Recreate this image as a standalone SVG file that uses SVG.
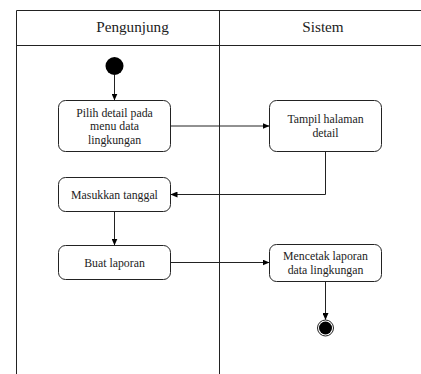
<svg xmlns="http://www.w3.org/2000/svg" width="421" height="374" viewBox="0 0 421 374">
<style>
.lane{fill:none;stroke:#222;stroke-width:1}
.box{fill:#fff;stroke:#222;stroke-width:1}
.t{font-family:"Liberation Serif","Times New Roman","DejaVu Serif",serif;font-size:11.8px;fill:#222;text-anchor:middle}
.h{font-family:"Liberation Serif","Times New Roman","DejaVu Serif",serif;font-size:15.2px;fill:#222;text-anchor:middle}
.c{fill:none;stroke:#222;stroke-width:1}
</style>
<defs>
<marker id="a" markerWidth="7" markerHeight="6" refX="6.5" refY="3" orient="auto" markerUnits="userSpaceOnUse">
<path d="M0,0 L7,3 L0,6 Z" fill="#000"/>
</marker>
</defs>
<rect width="421" height="374" fill="#fff"/>
<g id="swimlanes">
<path class="lane" d="M16.5,374 V10.5 H430 M16.5,45.5 H430 M219.5,10.5 V374"/>
<text class="h" x="132.5" y="32">Pengunjung</text>
<text class="h" x="323" y="32">Sistem</text>
</g>
<g id="start"><circle cx="114.5" cy="66" r="9" fill="#000"/></g>
<g id="n1"><rect class="box" x="58.5" y="100.5" width="112" height="51" rx="7"/>
<text class="t" x="114.5" y="116.5">Pilih detail pada</text>
<text class="t" x="114.5" y="130">menu data</text>
<text class="t" x="114.5" y="143.5">lingkungan</text></g>
<g id="n2"><rect class="box" x="269.5" y="100.5" width="112" height="51" rx="7"/>
<text class="t" x="325.5" y="123">Tampil halaman</text>
<text class="t" x="325.5" y="137">detail</text></g>
<g id="n3"><rect class="box" x="58.5" y="177.5" width="112" height="34" rx="7"/>
<text class="t" x="114.5" y="198.5">Masukkan tanggal</text></g>
<g id="n4"><rect class="box" x="58.5" y="245.5" width="112" height="34" rx="7"/>
<text class="t" x="114.5" y="267">Buat laporan</text></g>
<g id="n5"><rect class="box" x="269.5" y="244.5" width="112" height="37" rx="7"/>
<text class="t" x="325.5" y="259.5">Mencetak laporan</text>
<text class="t" x="325.5" y="274">data lingkungan</text></g>
<g id="end"><circle cx="325.5" cy="328" r="8" fill="#fff" stroke="#222" stroke-width="1"/><circle cx="325.5" cy="328" r="6.5" fill="#000"/></g>
<g id="connectors">
<path class="c" d="M114.5,75 V100" marker-end="url(#a)"/>
<path class="c" d="M170.5,126 H269" marker-end="url(#a)"/>
<path class="c" d="M325.5,151.5 V194.5 H171" marker-end="url(#a)"/>
<path class="c" d="M114.5,211.5 V245" marker-end="url(#a)"/>
<path class="c" d="M170.5,262.5 H269" marker-end="url(#a)"/>
<path class="c" d="M325.5,281.5 V319.5" marker-end="url(#a)"/>
</g>
</svg>
